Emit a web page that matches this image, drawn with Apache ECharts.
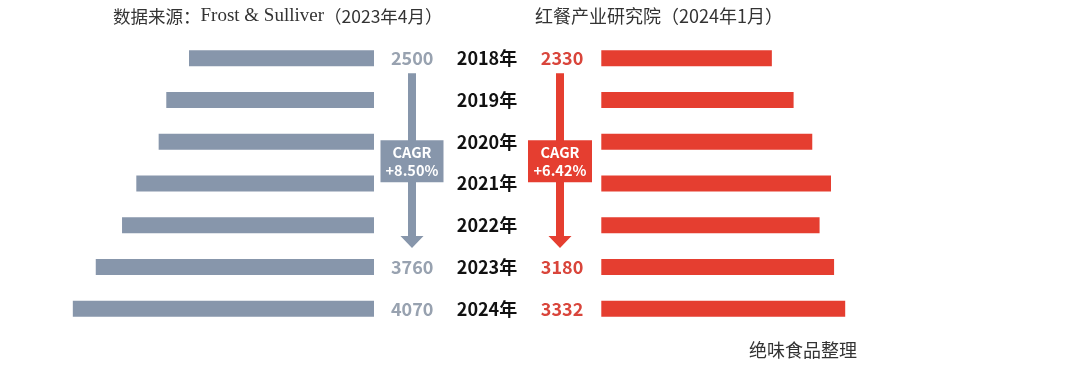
<!DOCTYPE html>
<html>
<head>
<meta charset="utf-8">
<script src="https://cdn.jsdelivr.net/npm/echarts@6/dist/echarts.min.js"></script>
<style>
html,body{margin:0;padding:0;background:#fff;}
#main{width:1080px;height:369px;}
</style>
</head>
<body>
<div id="main"></div>
<script>
// ---- data ----
const years = ['2018年','2019年','2020年','2021年','2022年','2023年','2024年'];
const frostValues = [2500, 2807, 2910, 3212, 3405, 3760, 4070];
const hongcanValues = [2330, 2627, 2882, 3138, 2982, 3180, 3332];
const labelledYears = ['2018年','2023年','2024年'];
const frostCagr = '+8.50%';
const hongcanCagr = '+6.42%';
const leftTitleParts = ['数据来源：', 'Frost & Sulliver', '（2023年4月）'];
const rightTitle = '红餐产业研究院（2024年1月）';
const footer = '绝味食品整理';

const CJK = '"Noto Sans CJK SC", "Noto Sans", sans-serif';
const GRAY = '#8796AB';
const RED = '#E53E30';

function mk(values) {
  return values.map((v, i) => ({
    value: v,
    label: { show: labelledYears.indexOf(years[i]) >= 0 }
  }));
}

const chart = echarts.init(document.getElementById('main'));
chart.setOption({
  animation: false,
  backgroundColor: '#fff',
  title: [
    {
      text: '{a|' + leftTitleParts[0] + '}{b|' + leftTitleParts[1] + '}{a|' + leftTitleParts[2] + '}',
      left: 108, top: 2,
      textStyle: {
        rich: {
          a: { fontFamily: CJK, fontSize: 17.5, color: '#333', fontWeight: 'normal' },
          b: { fontFamily: '"Liberation Serif", serif', fontSize: 19, color: '#333', fontWeight: 'normal' }
        }
      }
    },
    {
      text: rightTitle, left: 530, top: 2,
      textStyle: { fontFamily: CJK, fontSize: 18, color: '#333', fontWeight: 'normal' }
    },
    {
      text: footer, left: 744, top: 336,
      textStyle: { fontFamily: CJK, fontSize: 18, color: '#333', fontWeight: 'normal' }
    }
  ],
  grid: [
    { left: 4, width: 370, top: 37.4, height: 292.3 },
    { left: 601.3, width: 366, top: 37.4, height: 292.3 }
  ],
  xAxis: [
    { gridIndex: 0, type: 'value', min: 0, max: 5000, inverse: true, show: false },
    { gridIndex: 1, type: 'value', min: 0, max: 5000, show: false }
  ],
  yAxis: [
    {
      gridIndex: 0, type: 'category', data: years, inverse: true, position: 'right',
      axisLine: { show: false }, axisTick: { show: false }, splitLine: { show: false },
      axisLabel: {
        align: 'center', margin: 113, fontFamily: CJK, fontSize: 18, fontWeight: 'bold', color: '#111'
      }
    },
    {
      gridIndex: 1, type: 'category', data: years, inverse: true, show: false
    }
  ],
  series: [
    {
      type: 'bar', xAxisIndex: 0, yAxisIndex: 0, data: mk(frostValues), barWidth: 16,
      itemStyle: { color: GRAY },
      label: {
        position: 'right', distance: 17, fontFamily: CJK, fontSize: 18, fontWeight: 'bold', color: '#98A2B0'
      }
    },
    {
      type: 'bar', xAxisIndex: 1, yAxisIndex: 1, data: mk(hongcanValues), barWidth: 16,
      itemStyle: { color: RED },
      label: {
        position: 'left', distance: 18, fontFamily: CJK, fontSize: 18, fontWeight: 'bold', color: '#D9453B'
      }
    }
  ]
});

function arrowGroup(cx, color, cagr, boxW) {
  const yTop = chart.convertToPixel({ yAxisIndex: 0 }, years[0]) + 15;
  const yTip = chart.convertToPixel({ yAxisIndex: 0 }, years[5]) - 19;
  const yMid = (chart.convertToPixel({ yAxisIndex: 0 }, years[2]) + chart.convertToPixel({ yAxisIndex: 0 }, years[3])) / 2 - 1.5;
  const shaftW = 8, headW = 23, headH = 12;
  const headTop = yTip - headH;
  return [
    {
      type: 'polygon',
      shape: { points: [
        [cx - shaftW / 2, yTop], [cx + shaftW / 2, yTop], [cx + shaftW / 2, headTop],
        [cx + headW / 2, headTop], [cx, yTip], [cx - headW / 2, headTop], [cx - shaftW / 2, headTop]
      ] },
      style: { fill: color }
    },
    {
      type: 'rect',
      shape: { x: cx - boxW / 2, y: yMid - 21, width: boxW, height: 42 },
      style: { fill: color }
    },
    {
      type: 'text',
      x: cx, y: yMid,
      style: {
        text: 'CAGR\n' + cagr, fill: '#fff', align: 'center', verticalAlign: 'middle',
        font: 'bold 14.5px ' + CJK, lineHeight: 18
      }
    }
  ];
}

chart.setOption({
  graphic: [].concat(arrowGroup(412, GRAY, frostCagr, 63), arrowGroup(560, RED, hongcanCagr, 64))
});
</script>
</body>
</html>
